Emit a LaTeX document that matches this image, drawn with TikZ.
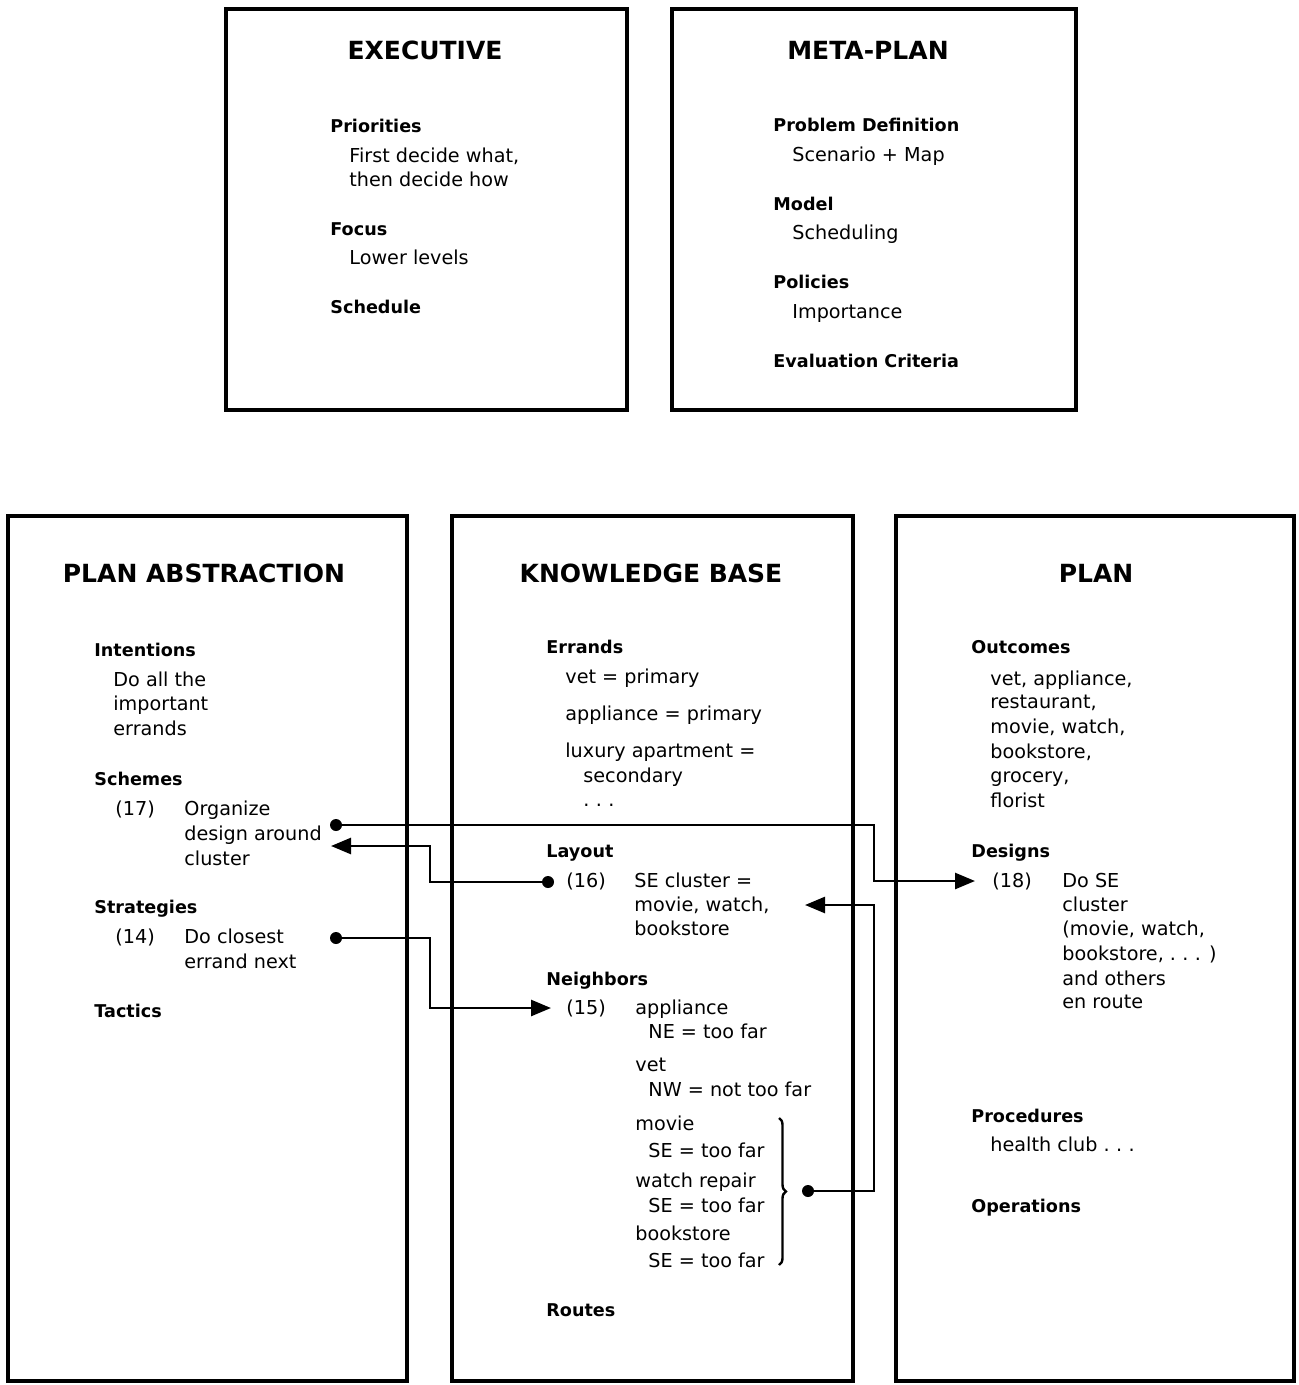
\documentclass[tikz,border=0pt]{standalone}
\usepackage{fontspec}
\setmainfont{DejaVu Sans}
\usetikzlibrary{arrows.meta,decorations.pathreplacing,fit}
\begin{document}
\begin{tikzpicture}[x=0.5pt,y=-0.5pt,
  boxs/.style={draw, line width=1.8pt, inner sep=0pt},
  ttl/.style={font=\fontsize{12.5}{15}\selectfont\bfseries, inner sep=0pt, anchor=base},
  hd/.style={font=\fontsize{8.8}{11}\selectfont\bfseries, inner sep=0pt, anchor=base west},
  tx/.style={font=\fontsize{9.6}{12}\selectfont, inner sep=0pt, anchor=base west},
  conn/.style={line width=1.3pt},
  dotn/.style={circle, fill, inner sep=0pt, minimum size=6pt},
  arr/.style={conn, -{Triangle[length=10pt,width=8pt]}}]
\useasboundingbox (0,0) rectangle (1298,1385);

% boxes
\node[boxs, fit={(226,9)(627,410)}] (exec) {};
\node[boxs, fit={(672,9)(1076,410)}] (meta) {};
\node[boxs, fit={(8,516)(407,1381)}] (pabs) {};
\node[boxs, fit={(452,516)(853,1381)}] (kb) {};
\node[boxs, fit={(896,516)(1294,1381)}] (plan) {};

% EXECUTIVE
\node[ttl] (exT) at (425,60) {EXECUTIVE};
\node[hd] (ex1) at (330,133) {Priorities};
\node[tx] (ex2) at (349,163) {First decide what,};
\node[tx] (ex3) at (349,187) {then decide how};
\node[hd] (ex4) at (330,236) {Focus};
\node[tx] (ex5) at (349,265) {Lower levels};
\node[hd] (ex6) at (330,314) {Schedule};

% META-PLAN
\node[ttl] (mpT) at (868,60) {META-PLAN};
\node[hd] (mp1) at (773,132) {Problem Definition};
\node[tx] (mp2) at (792,162) {Scenario + Map};
\node[hd] (mp3) at (773,211) {Model};
\node[tx] (mp4) at (792,240) {Scheduling};
\node[hd] (mp5) at (773,289) {Policies};
\node[tx] (mp6) at (792,319) {Importance};
\node[hd] (mp7) at (773,367) {Evaluation Criteria};

% PLAN ABSTRACTION
\node[ttl] (paT) at (204,582) {PLAN ABSTRACTION};
\node[hd] (pa1) at (94,656) {Intentions};
\node[tx] (pa2) at (113,686) {Do all the};
\node[tx] (pa3) at (113,710) {important};
\node[tx] (pa4) at (113,735) {errands};
\node[hd] (pa5) at (94,785) {Schemes};
\node[tx] (pa6) at (115,815) {(17)};
\node[tx] (pa7) at (184,815) {Organize};
\node[tx] (pa8) at (184,840) {design around};
\node[tx] (pa9) at (184,865) {cluster};
\node[hd] (pa10) at (94,913) {Strategies};
\node[tx] (pa11) at (115,943) {(14)};
\node[tx] (pa12) at (184,943) {Do closest};
\node[tx] (pa13) at (184,968) {errand next};
\node[hd] (pa14) at (94,1017) {Tactics};

% KNOWLEDGE BASE
\node[ttl] (kbT) at (651,582) {KNOWLEDGE BASE};
\node[hd] (kb1) at (546,653) {Errands};
\node[tx] (kb2) at (565,683) {vet = primary};
\node[tx] (kb3) at (565,720) {appliance = primary};
\node[tx] (kb4) at (565,757) {luxury apartment =};
\node[tx] (kb5) at (583,782) {secondary};
\node[tx] (kb6) at (583,806) {.\,\,.\,\,.};
\node[hd] (kb7) at (546,857) {Layout};
\node[tx] (kb8) at (566,887) {(16)};
\node[tx] (kb9) at (634,887) {SE cluster =};
\node[tx] (kb10) at (634,911) {movie, watch,};
\node[tx] (kb11) at (634,935) {bookstore};
\node[hd] (kb12) at (546,985) {Neighbors};
\node[tx] (kb13) at (566,1014) {(15)};
\node[tx] (kb14) at (635,1014) {appliance};
\node[tx] (kb15) at (648,1038) {NE = too far};
\node[tx] (kb16) at (635,1071) {vet};
\node[tx] (kb17) at (648,1096) {NW = not too far};
\node[tx] (kb18) at (635,1130) {movie};
\node[tx] (kb19) at (648,1157) {SE = too far};
\node[tx] (kb20) at (635,1187) {watch repair};
\node[tx] (kb21) at (648,1212) {SE = too far};
\node[tx] (kb22) at (635,1240) {bookstore};
\node[tx] (kb23) at (648,1267) {SE = too far};
\node[hd] (kb24) at (546,1316) {Routes};

% PLAN
\node[ttl] (plT) at (1096,582) {PLAN};
\node[hd] (pl1) at (971,653) {Outcomes};
\node[tx] (pl2) at (990,685) {vet, appliance,};
\node[tx] (pl3) at (990,708) {restaurant,};
\node[tx] (pl4) at (990,733) {movie, watch,};
\node[tx] (pl5) at (990,758) {bookstore,};
\node[tx] (pl6) at (990,782) {grocery,};
\node[tx] (pl7) at (990,807) {florist};
\node[hd] (pl8) at (971,857) {Designs};
\node[tx] (pl9) at (992,887) {(18)};
\node[tx] (pl10) at (1062,887) {Do SE};
\node[tx] (pl11) at (1062,911) {cluster};
\node[tx] (pl12) at (1062,935) {(movie, watch,};
\node[tx] (pl13) at (1062,960) {bookstore, .\,\,.\,\,. )};
\node[tx] (pl14) at (1062,985) {and others};
\node[tx] (pl15) at (1062,1008) {en route};
\node[hd] (pl16) at (971,1122) {Procedures};
\node[tx] (pl17) at (990,1151) {health club .\,\,.\,\,.};
\node[hd] (pl18) at (971,1212) {Operations};

% brace
\draw[decorate, decoration={brace, amplitude=3.5pt}, line width=1.2pt]
  (779,1118) -- (779,1265) coordinate[pos=0.5] (brmid);

% dots and targets
\node[dotn] (d17) at (336,825) {};
\node[dotn] (d16) at (548,882) {};
\node[dotn] (d14) at (336,938) {};
\node[dotn] (dbr) at (808,1191) {};
\coordinate (t18) at (975,881);
\coordinate (t17) at (331,846);
\coordinate (t15) at (551,1008);
\coordinate (t16) at (805,905);
\coordinate (bx1) at (874,0);
\coordinate (bx2) at (430,0);

% connectors
\draw[arr] (d17.center) -- (d17.center -| bx1) |- (t18);
\draw[arr] (d16.center) -- (d16.center -| bx2) |- (t17);
\draw[arr] (d14.center) -- (d14.center -| bx2) |- (t15);
\draw[arr] (dbr.center) -- (dbr.center -| bx1) |- (t16);
\end{tikzpicture}
\end{document}
